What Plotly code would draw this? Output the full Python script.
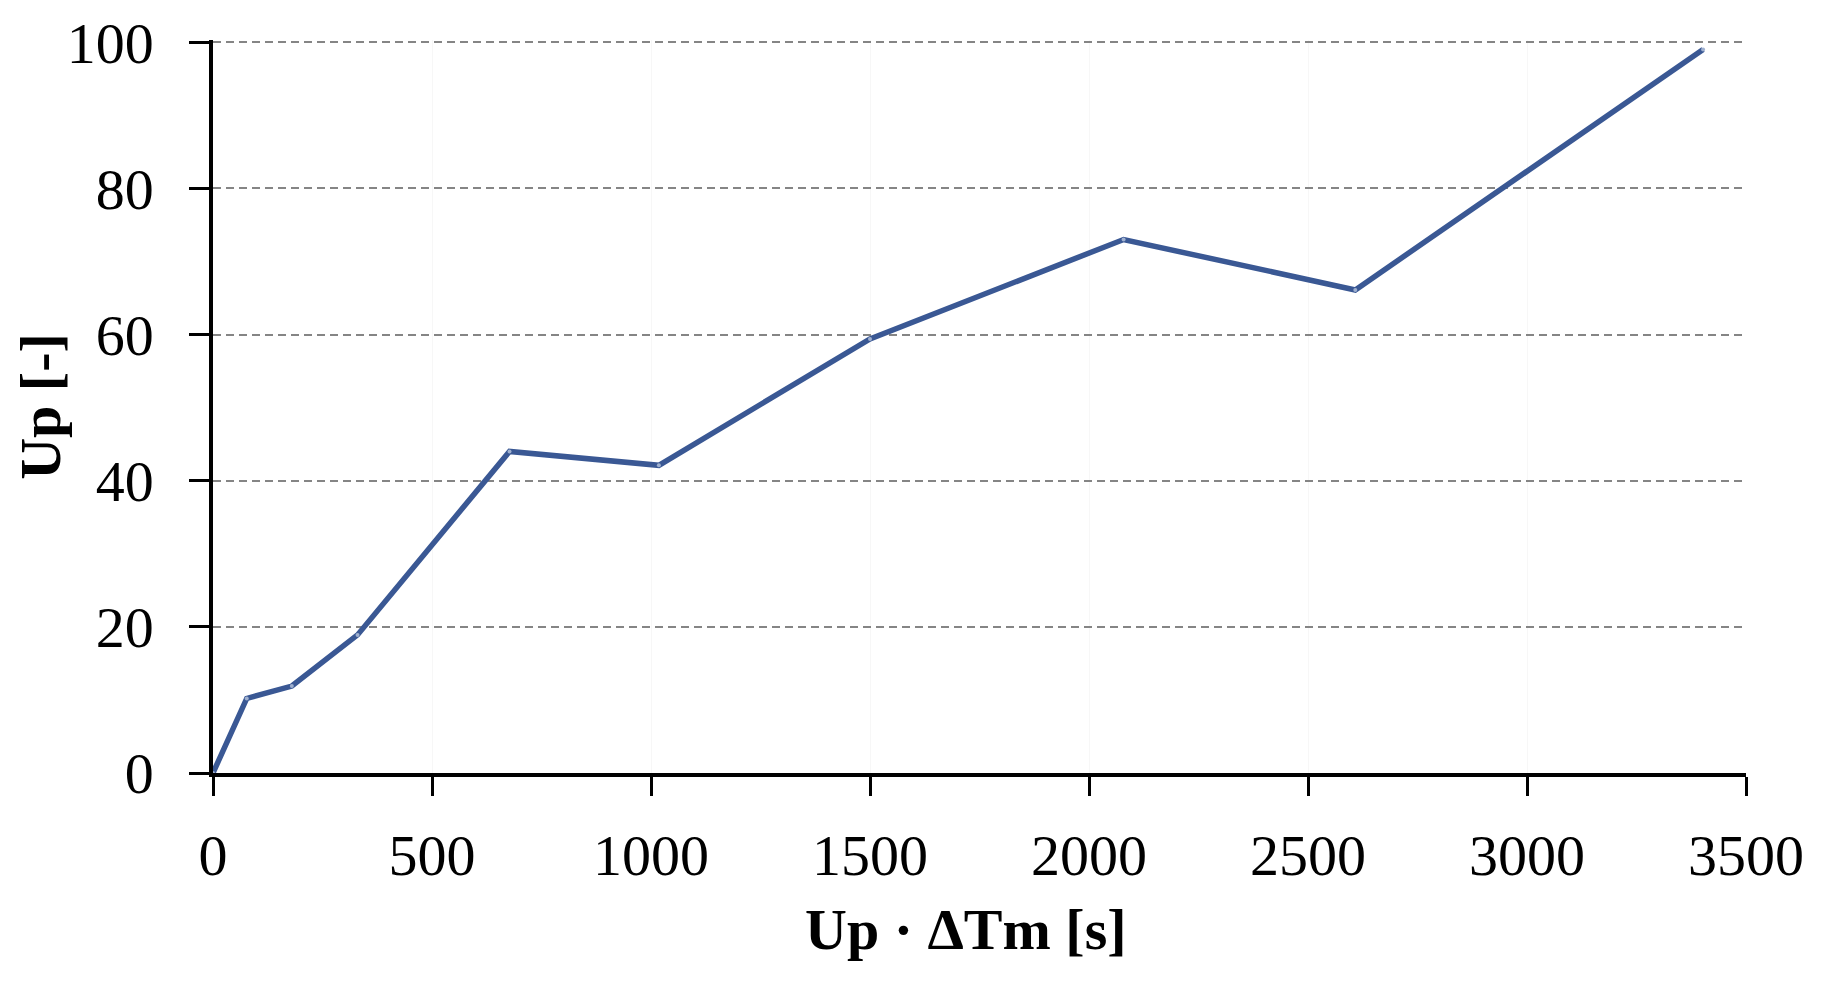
import plotly.graph_objects as go

# Data
x_vals = [0, 77, 180, 330, 677, 1018, 1500, 2079, 2608, 3402]
y_vals = [0, 10.2, 11.9, 18.9, 44.0, 42.1, 59.4, 73.0, 66.1, 99.0]

x_ticks = [0, 500, 1000, 1500, 2000, 2500, 3000, 3500]
y_ticks = [0, 20, 40, 60, 80, 100]

x_title = "Up · ΔTm [s]"
y_title = "Up [-]"

FONT = "Liberation Serif"
LINE_COLOR = "#3A5894"

fig = go.Figure()
fig.add_trace(go.Scatter(
    x=x_vals, y=y_vals,
    mode="lines+markers",
    line=dict(color=LINE_COLOR, width=5.5),
    marker=dict(size=4, color="#9fb0cf", line=dict(width=0)),
    showlegend=False,
))

fig.update_layout(
    width=1840, height=985,
    margin=dict(l=205, r=102, t=32, b=220, autoexpand=False),
    paper_bgcolor="white",
    plot_bgcolor="white",
    font=dict(family=FONT, size=58, color="black"),
    annotations=[dict(
        text="<b>" + x_title + "</b>",
        xref="paper", yref="paper", x=0.491, y=-0.213,
        xanchor="center", yanchor="middle", showarrow=False,
        font=dict(family=FONT, size=58, color="black"),
    )],
)

fig.update_xaxes(
    range=[0, 3500],
    tickvals=x_ticks,
    ticktext=[str(v) for v in x_ticks],
    showline=True, linecolor="black", linewidth=3.5,
    ticks="outside", ticklen=19, tickwidth=3, tickcolor="black",
    ticklabelstandoff=10,
    showgrid=True, gridcolor="#f7f7f7", gridwidth=1,
    zeroline=False,
    tickfont=dict(family=FONT, size=58, color="black"),
)

fig.update_yaxes(
    range=[0, 100.3],
    tickvals=y_ticks,
    ticktext=[str(v) for v in y_ticks],
    showline=True, linecolor="black", linewidth=3.5,
    ticks="outside", ticklen=20, tickwidth=3, tickcolor="black",
    ticklabelstandoff=24,
    showgrid=True, gridcolor="#858585", gridwidth=1.5, griddash="8px,5px",
    zeroline=False,
    tickfont=dict(family=FONT, size=58, color="black"),
    title=dict(text="<b>" + y_title + "</b>", font=dict(family=FONT, size=58, color="black"), standoff=11),
)

fig.write_html("out.html")
